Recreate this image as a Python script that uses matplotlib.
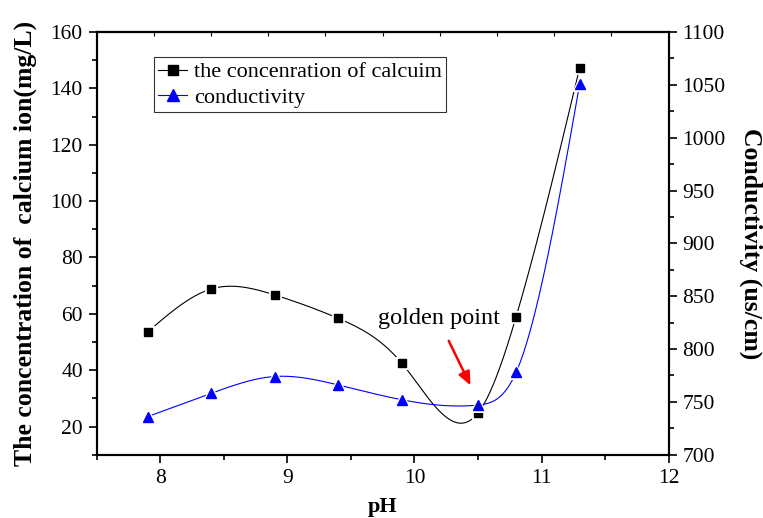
import numpy as np
import matplotlib.pyplot as plt

plt.rcParams['font.family'] = 'Liberation Serif'
plt.rcParams['mathtext.fontset'] = 'stix'

ph = [7.9, 8.4, 8.9, 9.4, 9.9, 10.5, 10.8, 11.3]
calcium = [53.5, 68.8, 66.7, 58.4, 42.5, 24.8, 59.0, 147.4]
conductivity = [736, 758, 774, 766, 752, 747, 778, 1051]


def natural_spline(x, y, n=300):
    # plain natural cubic spline through the points
    x = np.asarray(x, float)
    y = np.asarray(y, float)
    h = np.diff(x)
    m = len(x)
    A = np.zeros((m, m))
    b = np.zeros(m)
    A[0, 0] = A[-1, -1] = 1
    for i in range(1, m - 1):
        A[i, i - 1] = h[i - 1]
        A[i, i] = 2 * (h[i - 1] + h[i])
        A[i, i + 1] = h[i]
        b[i] = 6 * ((y[i + 1] - y[i]) / h[i] - (y[i] - y[i - 1]) / h[i - 1])
    M = np.linalg.solve(A, b)
    xs = np.linspace(x[0], x[-1], n)
    k = np.clip(np.searchsorted(x, xs) - 1, 0, m - 2)
    t0 = x[k + 1] - xs
    t1 = xs - x[k]
    hk = h[k]
    ys = (M[k] * t0 ** 3 + M[k + 1] * t1 ** 3) / (6 * hk) \
        + (y[k] / hk - M[k] * hk / 6) * t0 + (y[k + 1] / hk - M[k + 1] * hk / 6) * t1
    return xs, ys


fig = plt.figure(figsize=(7.63, 5.18), dpi=100)
ax = fig.add_axes([0.1267, 0.1222, 0.7497, 0.8160])
ax2 = ax.twinx()

xs, ys = natural_spline(ph, calcium)
ax.plot(xs, ys, color='black', lw=0.8, zorder=2)
ax.plot(ph, calcium, ls='none', marker='s', ms=6.5, color='black',
        mec='white', mew=2.2, zorder=3)
ax.plot(ph, calcium, ls='none', marker='s', ms=6.2, color='black', zorder=4)

xs2, ys2 = natural_spline(ph, conductivity)
ax2.plot(xs2, ys2, color='blue', lw=0.8, zorder=2)
ax2.plot(ph, conductivity, ls='none', marker='^', ms=8, color='blue',
         mec='white', mew=2.2, zorder=3)
ax2.plot(ph, conductivity, ls='none', marker='^', ms=7.8, color='blue', zorder=4)

# legend handles
h1, = ax.plot([], [], color='black', lw=0.8, marker='s', ms=6.5)
h2, = ax.plot([], [], color='blue', lw=0.8, marker='^', ms=8)
leg = ax.legend([h1, h2], ['the concenration of calcuim', 'conductivity'],
                loc='upper left', bbox_to_anchor=(0.1, 0.94),
                fontsize=16, frameon=True, fancybox=False, edgecolor='black',
                handlelength=1.3, handletextpad=0.3, borderpad=0.2,
                labelspacing=0.22, borderaxespad=0)
leg.get_frame().set_linewidth(0.8)

ax.set_xlim(7.5, 12)
ax.set_ylim(10, 160)
ax2.set_ylim(700, 1100)

ax.set_xticks([8, 9, 10, 11, 12])
ax.set_xticks(np.arange(7.5, 12.01, 0.5), minor=True)
ax.set_yticks(np.arange(20, 161, 20))
ax.set_yticks(np.arange(10, 161, 10), minor=True)
ax2.set_yticks(np.arange(700, 1101, 50))
ax2.set_yticks(np.arange(700, 1101, 25), minor=True)

for a in (ax, ax2):
    a.tick_params(which='major', direction='out', length=6, width=1.2,
                  labelsize=15.5, pad=4)
    a.tick_params(which='minor', direction='out', length=3.5, width=1.2)
    for s in a.spines.values():
        s.set_linewidth(1.5)

# unlabeled ticks along the top edge
top = ax.secondary_xaxis('top')
top.set_xticks(np.linspace(7.5, 12, 11)[1:-1])
top.set_xticklabels([])
top.tick_params(direction='in', length=3, width=0.8)
top.spines['top'].set_linewidth(1.5)

ax.set_xlabel('pH', fontsize=16, fontweight='bold', labelpad=7)
ax.set_ylabel('The concentration of  calcium ion(mg/L)', fontsize=18.5,
              fontweight='bold', labelpad=10)
ax2.set_ylabel('Conductivity (us/cm)', fontsize=18.5, fontweight='bold',
               rotation=270, labelpad=26)

ax.annotate('', xy=(10.45, 33.7), xytext=(10.26, 51.3),
            arrowprops=dict(arrowstyle='-|>,head_length=0.8,head_width=0.35',
                            color='red', lw=1.8))
ax.text(10.19, 58.5, 'golden point', fontsize=17.5, ha='center', va='center')

fig.savefig('out.png', dpi=100)
